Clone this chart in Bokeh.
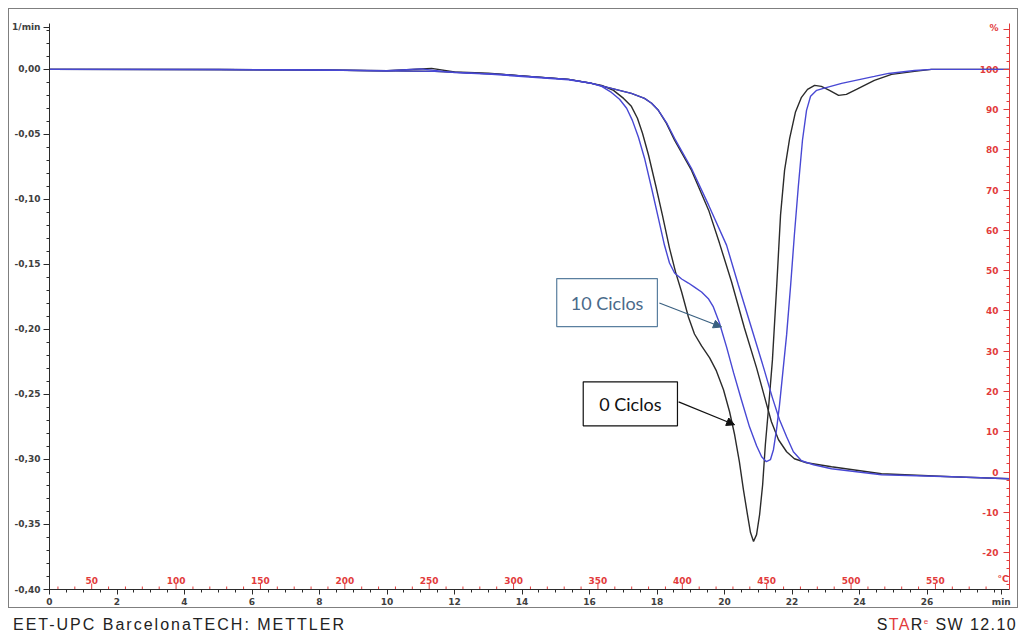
import numpy as np
from bokeh.plotting import figure
from bokeh.models import Range1d, LinearAxis, FixedTicker, Label, Arrow, NormalHead, Div, Spacer
from bokeh.layouts import column, row
from bokeh.embed import file_html
from bokeh.resources import INLINE
from bokeh.core.properties import value

# ---------------- data ----------------
# TG curves (right axis, %)
tg0_time = [0, 7.47, 11.41, 13.39, 15.38, 16.06, 16.65, 17.24, 17.63, 17.84, 18.04, 18.28,
            18.52, 19.02, 19.53, 19.85, 20.21, 20.59, 20.95, 21.21, 21.39, 21.60, 21.84,
            22.07, 22.43, 23.17, 24.65, 26.73, 28.44]
tg0_pct = [100, 99.88, 99.50, 98.76, 97.52, 96.53, 95.29, 94.05, 92.81, 91.6, 89.83, 86.6,
           82.40, 74.96, 65.04, 56.86, 47.19, 35.78, 25.86, 17.93, 12.47, 8.01, 5.03,
           3.30, 2.31, 1.31, -0.42, -1.17, -1.67]
tg10_time = [0, 7.47, 11.41, 13.39, 15.38, 16.06, 16.65, 17.24, 17.63, 17.84, 18.04, 18.28,
             18.52, 19.02, 19.53, 20.06, 20.41, 20.80, 21.16, 21.42, 21.63, 21.84, 22.04,
             22.28, 22.64, 23.17, 24.65, 26.73, 28.44]
tg10_pct = [100, 99.88, 99.50, 98.76, 97.52, 96.53, 95.29, 94.05, 92.81, 91.6, 89.83, 86.8,
            82.89, 75.45, 66.28, 56.36, 46.44, 35.78, 25.86, 18.42, 12.97, 8.75, 5.03,
            2.80, 1.81, 0.82, -0.67, -1.17, -1.67]

# DTG curves (left axis, 1/min)
dtg0_time = [0, 5.0, 8.0, 10.0, 11.32, 12.0, 13.0, 14.0, 15.38, 16.06, 16.36, 16.71, 17.01,
             17.24, 17.42, 17.57, 17.75, 17.96, 18.16, 18.37, 18.55, 18.73, 18.93, 19.11,
             19.32, 19.56, 19.76, 19.97, 20.15, 20.30, 20.44, 20.56, 20.68, 20.77, 20.86,
             20.95, 21.04, 21.13, 21.21, 21.30, 21.42, 21.54, 21.66, 21.78, 21.93, 22.10,
             22.28, 22.46, 22.67, 22.87, 23.11, 23.38, 23.61, 23.91, 24.44, 24.95, 25.63,
             26.13, 28.44]
dtg0_val = [0, 0, -0.0005, -0.001, 0.0008, -0.002, -0.003, -0.005, -0.0077, -0.0107, -0.0123,
            -0.0161, -0.0223, -0.0284, -0.0376, -0.0491, -0.0660, -0.0891, -0.1121, -0.1374,
            -0.1559, -0.1712, -0.1904, -0.2035, -0.2127, -0.2219, -0.2319, -0.2464, -0.2633,
            -0.2810, -0.3017, -0.3232, -0.3424, -0.3562, -0.3631, -0.3578, -0.3424, -0.3194,
            -0.2887, -0.2618, -0.2234, -0.1697, -0.1121, -0.0775, -0.0530, -0.0330, -0.0215,
            -0.0154, -0.0123, -0.0131, -0.0161, -0.0200, -0.0192, -0.0154, -0.0084, -0.0038,
            -0.0015, 0, 0]
dtg10_time = [0, 5.0, 8.0, 10.0, 11.0, 12.0, 13.0, 14.0, 15.38, 16.06, 16.36, 16.65, 16.89,
              17.10, 17.27, 17.45, 17.63, 17.84, 18.04, 18.22, 18.37, 18.52, 18.73, 18.93,
              19.11, 19.32, 19.53, 19.67, 19.85, 20.06, 20.27, 20.50, 20.74, 20.95, 21.10,
              21.24, 21.36, 21.45, 21.54, 21.63, 21.72, 21.84, 21.96, 22.07, 22.19, 22.31,
              22.43, 22.55, 22.73, 22.93, 23.47, 24.44, 24.86, 25.63, 26.13, 28.44]
dtg10_val = [0, 0, -0.0005, -0.001, 0.0004, -0.0025, -0.0035, -0.0055, -0.008, -0.0107, -0.0131,
             -0.0177, -0.0230, -0.0299, -0.0392, -0.0522, -0.0683, -0.0914, -0.1144, -0.1351,
             -0.1489, -0.1566, -0.1612, -0.1643, -0.1674, -0.1712, -0.1766, -0.1827, -0.1950,
             -0.2134, -0.2334, -0.2541, -0.2749, -0.2894, -0.2979, -0.3017, -0.3002, -0.2925,
             -0.2772, -0.2580, -0.2349, -0.2042, -0.1658, -0.1274, -0.0891, -0.0545, -0.0315,
             -0.0207, -0.0161, -0.0146, -0.0107, -0.0054, -0.0031, -0.0008, 0, 0]

# axis ticks / labels
time_ticks = [0, 2, 4, 6, 8, 10, 12, 14, 16, 18, 20, 22, 24, 26]
time_unit_pos = 28.2
dtg_ticks = [0.0, -0.05, -0.10, -0.15, -0.20, -0.25, -0.30, -0.35, -0.40]
dtg_labels = ["0,00", "-0,05", "-0,10", "-0,15", "-0,20", "-0,25", "-0,30", "-0,35", "-0,40"]
dtg_unit_pos = 0.0323
pct_ticks = [100, 90, 80, 70, 60, 50, 40, 30, 20, 10, 0, -10, -20]
pct_labels = ["100", "90", "80", "70", "60", "50", "40", "30", "20", "10", "0", "-10", "-20"]
pct_unit_pos = 110.2
temp_ticks = [50, 100, 150, 200, 250, 300, 350, 400, 450, 500, 550]
temp_start, heating_rate = 25.0, 20.0   # deg C at t=0, deg C / min

RED = "#e23b3b"
BLACK = "#2b2b2b"
BLUE = "#4848d4"
LABEL_FONT = "DejaVu Sans"

X_END = 28.444
p = figure(width=1010, height=600, output_backend="svg", toolbar_location=None,
           x_range=Range1d(0, X_END), y_range=Range1d(-0.40, 0.0353),
           min_border_left=40, min_border_right=10, min_border_top=14, min_border_bottom=18,
           background_fill_color="white", border_fill_color="white")
p.styles = {"border": "1px solid #7f7f7f"}
p.outline_line_color = None
p.grid.visible = False
p.extra_y_ranges = {"pct": Range1d(-29.18, 111.4)}

# left axis
ya = p.yaxis[0]
ya.ticker = FixedTicker(ticks=dtg_ticks + [dtg_unit_pos],
                        minor_ticks=[float(v) for v in np.round(np.arange(-0.40, 0.031, 0.01), 3)])
ya.major_label_overrides = dict(zip(dtg_ticks, dtg_labels)) | {dtg_unit_pos: "1/min"}
ya.major_tick_in = 0
ya.major_tick_out = 6
ya.minor_tick_in = 0
ya.minor_tick_out = 3
ya.major_label_standoff = 3
ya.major_label_text_font = LABEL_FONT
ya.major_label_text_font_size = "9px"
ya.major_label_text_font_style = "bold"
ya.major_label_text_color = "#404040"
ya.axis_line_color = BLACK
ya.major_tick_line_color = BLACK
ya.minor_tick_line_color = BLACK

# bottom axis
xa = p.xaxis[0]
xa.ticker = FixedTicker(ticks=time_ticks + [time_unit_pos],
                        minor_ticks=[float(v) for v in np.arange(0, 28.45, 0.5)])
xa.major_label_overrides = {time_unit_pos: "min"}
xa.major_tick_in = 0
xa.major_tick_out = 5
xa.minor_tick_in = 0
xa.minor_tick_out = 3
xa.major_label_standoff = 2
xa.major_label_text_font = LABEL_FONT
xa.major_label_text_font_size = "9px"
xa.major_label_text_font_style = "bold"
xa.major_label_text_color = "#404040"
xa.axis_line_color = BLACK
xa.major_tick_line_color = BLACK
xa.minor_tick_line_color = BLACK

# right axis (%), ticks pointing inward, labels drawn inside as text
ra_ticks = pct_ticks + [110]
ra = LinearAxis(y_range_name="pct",
                ticker=FixedTicker(ticks=ra_ticks,
                                   minor_ticks=[float(v) for v in np.arange(-28, 111, 2)]),
                major_tick_in=6, major_tick_out=0, minor_tick_in=3, minor_tick_out=0,
                major_label_overrides={t: "" for t in ra_ticks}, major_label_standoff=0,
                major_label_text_font_size="9px",
                axis_line_color=RED, major_tick_line_color=RED, minor_tick_line_color=RED)
p.add_layout(ra, "right")

p.text(x=[X_END] * (len(pct_ticks) + 1), y=pct_ticks + [pct_unit_pos], text=pct_labels + ["%"],
       y_range_name="pct", x_offset=-11, text_align="right", text_baseline="middle",
       text_font=value(LABEL_FONT), text_font_size="9px", text_font_style="bold",
       text_color=RED)

# temperature scale along the time axis (red, inside)
temp_x = [(t - temp_start) / heating_rate for t in temp_ticks]
minor_temp = [t for t in range(30, 590, 10) if t % 50 != 0]
minor_temp_x = [(t - temp_start) / heating_rate for t in minor_temp]
p.scatter(x=temp_x, y=[-0.40] * len(temp_x), marker="dash", angle=np.pi / 2, size=12,
          line_color=RED, line_width=1)
p.scatter(x=minor_temp_x, y=[-0.40] * len(minor_temp_x), marker="dash", angle=np.pi / 2,
          size=6, line_color=RED, line_width=1)
p.text(x=temp_x + [28.25], y=[-0.40] * (len(temp_x) + 1),
       text=[str(t) for t in temp_ticks] + ["°C"], y_offset=-6,
       text_align="center", text_baseline="bottom",
       text_font=value(LABEL_FONT), text_font_size="9px", text_font_style="bold",
       text_color=RED)

# curves
p.line(tg0_time, tg0_pct, y_range_name="pct", line_color=BLACK, line_width=1.4)
p.line(dtg0_time, dtg0_val, line_color=BLACK, line_width=1.4)
p.line(tg10_time, tg10_pct, y_range_name="pct", line_color=BLUE, line_width=1.4)
p.line(dtg10_time, dtg10_val, line_color=BLUE, line_width=1.4)

# annotations
p.add_layout(Label(x=16.52, y=-0.1793, text="10 Ciclos", text_align="center",
                   text_baseline="middle", text_font="Lato", text_font_size="18px",
                   text_color="#4a6a8a", border_line_color="#5a7f9f", border_line_width=1.2,
                   background_fill_color="white",
                   padding=dict(left=14, right=14, top=13, bottom=13)))
p.add_layout(Label(x=17.21, y=-0.2572, text="0 Ciclos", text_align="center",
                   text_baseline="middle", text_font="Lato", text_font_size="18px",
                   text_color="#111111", border_line_color="#111111", border_line_width=1.2,
                   background_fill_color="white",
                   padding=dict(left=16, right=16, top=11, bottom=11)))
p.add_layout(Arrow(end=NormalHead(size=8, fill_color="#3a6080", line_color="#3a6080"),
                   x_start=18.07, y_start=-0.1797, x_end=19.91, y_end=-0.1981,
                   line_color="#3a6080", line_width=1.2))
p.add_layout(Arrow(end=NormalHead(size=8, fill_color="#111111", line_color="#111111"),
                   x_start=18.64, y_start=-0.2557, x_end=20.30, y_end=-0.2733,
                   line_color="#111111", line_width=1.2))

footer = Div(text=(
    '<div style="display:flex;justify-content:space-between;width:1010px;box-sizing:border-box;'
    'padding-right:6px;'
    'font-family:\'Liberation Sans\',Arial,sans-serif;font-size:16px;color:#222;'
    'letter-spacing:2px;line-height:17px;padding-top:3px;white-space:nowrap">'
    '<span>EET-UPC BarcelonaTECH: METTLER</span>'
    '<span style="letter-spacing:1.4px">S<span style="color:#e23b3b">TA</span>R'
    '<span style="color:#e23b3b;font-size:8px;position:relative;top:-6px">e</span>'
    ' SW 12.10</span></div>'),
    width=1010, height=21)

layout = row(Spacer(width=8), column(Spacer(height=8), p, footer, spacing=0), spacing=0)
open("out.html", "w").write(file_html(layout, INLINE))
